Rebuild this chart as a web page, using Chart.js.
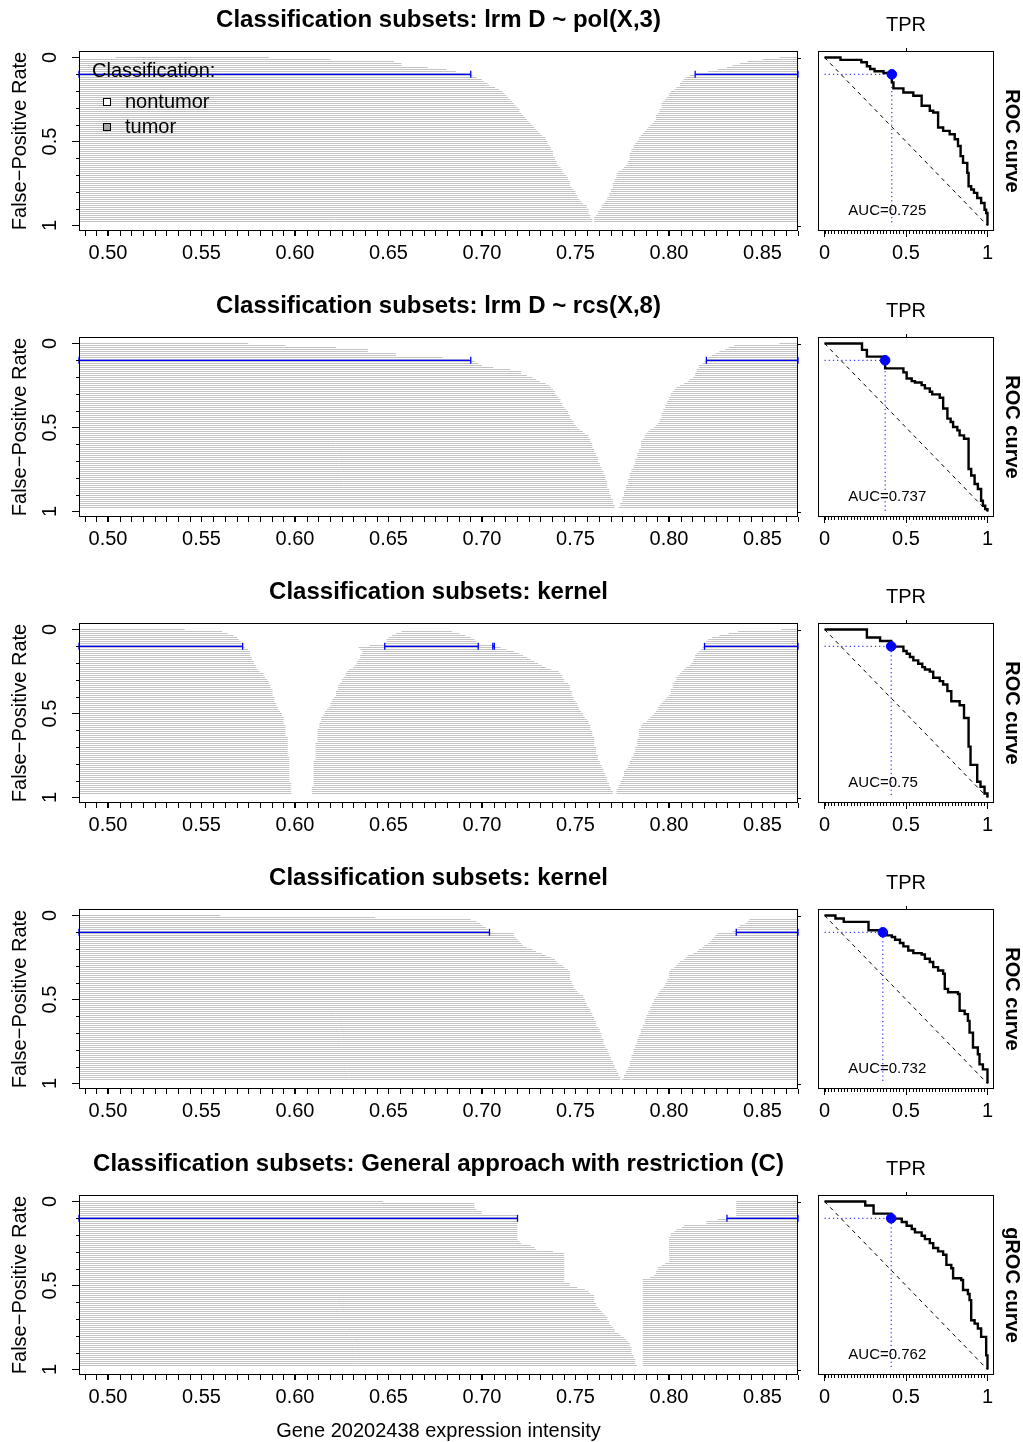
<!DOCTYPE html>
<html><head><meta charset="utf-8"><title>Classification subsets</title>
<script src="https://cdn.jsdelivr.net/npm/chart.js@4.4.0/dist/chart.umd.min.js"></script>
<style>html,body{margin:0;padding:0;background:#fff}body{position:relative;width:1023px;height:1442px;overflow:hidden}canvas{position:absolute}</style>
</head><body>
<script>
// ---------------- text ----------------
const titles = [
  'Classification subsets: lrm D ~ pol(X,3)',
  'Classification subsets: lrm D ~ rcs(X,8)',
  'Classification subsets: kernel',
  'Classification subsets: kernel',
  'Classification subsets: General approach with restriction (C)'
];
const rocSideLabels = ['ROC curve','ROC curve','ROC curve','ROC curve','gROC curve'];
const aucLabels = ['AUC=0.725','AUC=0.737','AUC=0.75','AUC=0.732','AUC=0.762'];
const yAxisTitle = 'False\u2212Positive Rate';
const xAxisTitle = 'Gene 20202438 expression intensity';
const rocTopLabel = 'TPR';
const legendTitle = 'Classification:';
const legendLabels = ['nontumor','tumor'];
const legendFills = ['#ffffff','#a6a6a6'];

// ---------------- ticks ----------------
const xTickValues = [0.50,0.55,0.60,0.65,0.70,0.75,0.80,0.85];
const xTickLabels = ['0.50','0.55','0.60','0.65','0.70','0.75','0.80','0.85'];
const yTickValues = [0,0.5,1];
const yTickLabels = ['0','0.5','1'];
const rocTickValues = [0,0.5,1];
const rocTickLabels = ['0','0.5','1'];

// ---------------- FPR levels (k / number of non-tumor samples) ----------------
const nNontumor = 84;
const nLevels = 83;

// ---------------- classification subsets: segment limits per FPR level ----------------
const p1Left = [
0.586,0.619,0.653,0.657,0.657,0.671,0.681,0.686,0.694,0.695,
0.697,0.700,0.701,0.703,0.704,0.707,0.709,0.711,0.712,0.713,
0.714,0.715,0.716,0.717,0.718,0.719,0.720,0.720,0.721,0.722,
0.723,0.724,0.725,0.726,0.727,0.728,0.729,0.730,0.731,0.732,
0.734,0.734,0.735,0.735,0.736,0.737,0.737,0.738,0.738,0.738,
0.739,0.739,0.740,0.740,0.741,0.742,0.743,0.743,0.744,0.745,
0.746,0.746,0.747,0.747,0.747,0.748,0.749,0.750,0.750,0.751,
0.751,0.752,0.753,0.754,0.756,0.756,0.757,0.757,0.757,0.758,
0.758,0.759,0.759];
const p1Right = [
0.859,0.850,0.842,0.838,0.834,0.831,0.826,0.821,0.814,0.811,
0.809,0.808,0.807,0.806,0.806,0.804,0.803,0.801,0.800,0.800,
0.799,0.798,0.797,0.796,0.796,0.796,0.795,0.795,0.794,0.793,
0.793,0.793,0.792,0.791,0.790,0.789,0.788,0.787,0.786,0.785,
0.784,0.784,0.783,0.782,0.781,0.781,0.780,0.780,0.779,0.779,
0.779,0.779,0.778,0.778,0.777,0.776,0.775,0.773,0.772,0.772,
0.772,0.771,0.771,0.770,0.770,0.770,0.769,0.769,0.768,0.768,
0.767,0.767,0.766,0.765,0.764,0.764,0.763,0.762,0.762,0.761,
0.760,0.760,0.760];
const p2Left = [
0.575,0.595,0.622,0.639,0.639,0.654,0.654,0.679,0.693,0.696,
0.698,0.700,0.706,0.715,0.721,0.721,0.724,0.727,0.729,0.731,
0.734,0.736,0.737,0.738,0.739,0.739,0.740,0.741,0.742,0.742,
0.743,0.743,0.744,0.745,0.746,0.746,0.747,0.747,0.748,0.749,
0.749,0.750,0.751,0.752,0.754,0.755,0.757,0.757,0.758,0.758,
0.759,0.759,0.759,0.760,0.760,0.761,0.761,0.762,0.762,0.762,
0.763,0.763,0.764,0.764,0.765,0.765,0.766,0.766,0.766,0.767,
0.767,0.767,0.767,0.768,0.768,0.768,0.769,0.769,0.770,0.770,
0.770,0.771,0.771];
const p2Right = [
0.859,0.835,0.832,0.830,0.827,0.825,0.823,0.821,0.820,0.819,
0.818,0.816,0.816,0.815,0.815,0.814,0.814,0.813,0.811,0.810,
0.808,0.806,0.804,0.803,0.802,0.801,0.801,0.800,0.800,0.799,
0.799,0.798,0.798,0.797,0.797,0.796,0.796,0.796,0.795,0.795,
0.794,0.793,0.792,0.790,0.789,0.788,0.787,0.787,0.786,0.785,
0.785,0.785,0.785,0.784,0.784,0.783,0.783,0.783,0.782,0.782,
0.782,0.781,0.781,0.780,0.780,0.779,0.779,0.779,0.778,0.778,
0.778,0.777,0.777,0.777,0.776,0.776,0.776,0.775,0.775,0.775,
0.774,0.774,0.773];
const p3Left = [
0.541,0.561,0.564,0.567,0.569,0.570,0.571,0.572,0.572,0.573,
0.575,0.576,0.576,0.576,0.577,0.577,0.578,0.578,0.579,0.579,
0.580,0.581,0.583,0.583,0.584,0.585,0.586,0.586,0.587,0.587,
0.588,0.588,0.588,0.588,0.589,0.589,0.589,0.590,0.590,0.591,
0.591,0.592,0.593,0.593,0.594,0.594,0.594,0.594,0.595,0.595,
0.595,0.595,0.595,0.595,0.596,0.596,0.596,0.596,0.596,0.596,
0.596,0.596,0.596,0.596,0.597,0.597,0.597,0.597,0.597,0.597,
0.597,0.597,0.597,0.597,0.597,0.597,0.597,0.598,0.598,0.598,
0.598,0.598,0.598];
const p3MidStart = [
null,0.657,0.654,0.652,0.650,0.649,0.649,0.648,0.640,0.634,
0.635,0.636,0.636,0.635,0.635,0.634,0.633,0.633,0.632,0.631,
0.629,0.628,0.627,0.627,0.626,0.625,0.625,0.624,0.623,0.623,
0.623,0.622,0.622,0.622,0.621,0.620,0.620,0.619,0.619,0.618,
0.617,0.616,0.616,0.615,0.614,0.614,0.614,0.613,0.613,0.613,
0.612,0.612,0.612,0.612,0.612,0.612,0.612,0.611,0.611,0.611,
0.611,0.611,0.611,0.611,0.611,0.611,0.610,0.610,0.610,0.610,
0.610,0.610,0.610,0.610,0.610,0.610,0.610,0.610,0.610,0.609,
0.609,0.609,0.609];
const p3MidEnd = [
null,0.684,0.688,0.691,0.694,0.696,0.697,0.698,0.707,0.710,
0.713,0.717,0.720,0.722,0.724,0.726,0.728,0.730,0.732,0.734,
0.737,0.741,0.742,0.743,0.743,0.744,0.744,0.746,0.747,0.747,
0.747,0.748,0.748,0.748,0.749,0.749,0.750,0.751,0.751,0.752,
0.752,0.753,0.754,0.754,0.755,0.756,0.757,0.757,0.758,0.758,
0.758,0.759,0.759,0.759,0.760,0.760,0.760,0.760,0.760,0.761,
0.761,0.761,0.761,0.762,0.762,0.762,0.763,0.763,0.764,0.764,
0.765,0.765,0.766,0.766,0.767,0.767,0.767,0.768,0.768,0.769,
0.769,0.770,0.770];
const p3Right = [
0.860,0.837,0.832,0.827,0.823,0.821,0.820,0.819,0.819,0.818,
0.817,0.816,0.815,0.814,0.814,0.813,0.813,0.812,0.811,0.809,
0.808,0.807,0.806,0.805,0.804,0.804,0.803,0.802,0.802,0.802,
0.801,0.801,0.801,0.800,0.799,0.798,0.797,0.796,0.795,0.794,
0.794,0.793,0.792,0.791,0.790,0.789,0.788,0.786,0.785,0.785,
0.784,0.784,0.784,0.784,0.784,0.783,0.783,0.783,0.783,0.782,
0.782,0.782,0.781,0.781,0.780,0.780,0.779,0.779,0.778,0.778,
0.777,0.776,0.776,0.776,0.775,0.775,0.774,0.774,0.773,0.773,
0.772,0.772,0.772];
const p4Left = [
0.560,0.643,0.694,0.697,0.699,0.700,0.702,0.703,0.704,0.717,
0.717,0.718,0.719,0.720,0.721,0.722,0.724,0.727,0.729,0.732,
0.734,0.737,0.739,0.740,0.741,0.743,0.744,0.746,0.747,0.747,
0.747,0.747,0.747,0.748,0.748,0.749,0.749,0.750,0.751,0.752,
0.754,0.754,0.755,0.755,0.756,0.756,0.757,0.758,0.758,0.759,
0.759,0.760,0.760,0.761,0.761,0.761,0.762,0.763,0.763,0.764,
0.764,0.764,0.765,0.765,0.765,0.766,0.766,0.767,0.767,0.768,
0.768,0.769,0.769,0.770,0.770,0.771,0.771,0.772,0.772,0.773,
0.773,0.774,0.774];
const p4Right = [
null,null,0.843,0.842,0.841,0.838,0.837,0.836,0.834,0.826,
0.825,0.824,0.823,0.822,0.821,0.819,0.818,0.816,0.815,0.813,
0.810,0.809,0.808,0.806,0.805,0.804,0.803,0.801,0.800,0.800,
0.800,0.800,0.799,0.799,0.798,0.798,0.797,0.796,0.795,0.794,
0.794,0.793,0.792,0.792,0.791,0.791,0.790,0.790,0.789,0.789,
0.788,0.788,0.787,0.787,0.787,0.786,0.786,0.785,0.785,0.785,
0.784,0.784,0.783,0.783,0.783,0.782,0.782,0.781,0.781,0.781,
0.780,0.780,0.780,0.779,0.779,0.779,0.778,0.778,0.777,0.777,
0.776,0.776,0.775];
const p5Left = [
0.647,0.696,0.696,0.696,0.697,0.700,0.700,0.719,0.719,0.719,
0.719,0.719,0.719,0.719,0.719,0.719,0.719,0.719,0.719,0.719,
0.720,0.721,0.726,0.728,0.729,0.738,0.744,0.744,0.744,0.744,
0.744,0.744,0.744,0.744,0.744,0.744,0.744,0.744,0.744,0.744,
0.744,0.747,0.747,0.751,0.755,0.757,0.758,0.760,0.760,0.760,
0.760,0.761,0.761,0.762,0.763,0.764,0.765,0.766,0.767,0.767,
0.768,0.768,0.769,0.770,0.771,0.771,0.773,0.774,0.776,0.777,
0.778,0.779,0.779,0.780,0.780,0.780,0.780,0.781,0.781,0.782,
0.782,0.782,0.783];
const p5Right = [
0.836,0.836,0.836,0.836,0.836,0.836,0.836,0.836,0.831,0.826,
0.820,0.820,0.808,0.807,0.804,0.803,0.801,0.801,0.800,0.800,
0.800,0.800,0.800,0.800,0.800,0.800,0.800,0.800,0.800,0.800,
0.800,0.798,0.796,0.794,0.794,0.793,0.793,0.792,0.790,0.786,
0.786,0.786,0.786,0.786,0.786,0.786,0.786,0.786,0.786,0.786,
0.786,0.786,0.786,0.786,0.786,0.786,0.786,0.786,0.786,0.786,
0.786,0.786,0.786,0.786,0.786,0.786,0.786,0.786,0.786,0.786,
0.786,0.786,0.786,0.786,0.786,0.786,0.786,0.786,0.786,0.786,
0.786,0.786,0.786];
const firstLineStart = [0.504, null, null, null, null];

// ---------------- optimal subset at FPR = 0.1 (blue) ----------------
const cutFPR = [0.1, 0.1, 0.1, 0.1, 0.1];
const blueLeftEnd = [0.694, 0.694, 0.572, 0.704, 0.719];
const blueRightStart = [0.814, 0.820, 0.819, 0.836, 0.831];
const blueMidStart = [[], [], [0.648, 0.7058], [], []];
const blueMidEnd = [[], [], [0.698, 0.7066], [], []];

// ---------------- ROC curves (TPR on x, FPR on y) ----------------
const roc1TPR = [0,0.098,0.226,0.260,0.280,0.307,0.362,0.392,0.413,0.423,0.484,0.545,0.596,0.646,0.667,0.697,0.728,0.768,0.799,0.819,0.835,0.850,0.876,0.884,0.900,0.917,0.937,0.961,0.982,0.992,1];
const roc1FPR = [0,0.014,0.028,0.052,0.068,0.082,0.092,0.102,0.148,0.184,0.208,0.228,0.287,0.317,0.327,0.417,0.437,0.457,0.487,0.527,0.587,0.627,0.687,0.766,0.786,0.806,0.836,0.866,0.906,0.926,1];
const roc2TPR = [0,0.230,0.260,0.372,0.484,0.504,0.535,0.555,0.596,0.616,0.646,0.661,0.707,0.728,0.754,0.774,0.789,0.815,0.829,0.856,0.884,0.900,0.921,0.941,0.961,0.972,0.986,1];
const roc2FPR = [0,0.038,0.078,0.148,0.172,0.208,0.224,0.232,0.248,0.267,0.287,0.303,0.323,0.387,0.447,0.467,0.497,0.517,0.547,0.567,0.747,0.786,0.836,0.866,0.936,0.966,0.986,1];
const roc3TPR = [0,0.260,0.341,0.409,0.484,0.504,0.524,0.545,0.575,0.600,0.616,0.646,0.667,0.707,0.728,0.754,0.778,0.829,0.856,0.884,0.896,0.937,0.957,0.982,1];
const roc3FPR = [0,0.048,0.068,0.102,0.128,0.144,0.164,0.184,0.204,0.224,0.238,0.251,0.287,0.307,0.327,0.367,0.427,0.451,0.527,0.697,0.806,0.906,0.936,0.976,1];
const roc4TPR = [0,0.067,0.118,0.270,0.358,0.382,0.413,0.433,0.463,0.484,0.514,0.545,0.596,0.616,0.646,0.667,0.697,0.728,0.738,0.758,0.819,0.829,0.860,0.880,0.890,0.911,0.941,0.951,0.972,1,1];
const roc4FPR = [0,0.018,0.038,0.088,0.102,0.118,0.128,0.144,0.164,0.184,0.208,0.224,0.232,0.257,0.277,0.307,0.327,0.347,0.437,0.457,0.467,0.567,0.587,0.627,0.697,0.786,0.826,0.886,0.916,0.946,1];
const roc5TPR = [0,0.250,0.301,0.409,0.474,0.504,0.535,0.555,0.596,0.616,0.646,0.667,0.697,0.728,0.748,0.778,0.789,0.839,0.850,0.880,0.890,0.900,0.921,0.941,0.961,0.992,1];
const roc5FPR = [0,0.024,0.072,0.102,0.122,0.144,0.164,0.184,0.204,0.224,0.248,0.277,0.297,0.317,0.377,0.397,0.457,0.467,0.527,0.551,0.587,0.707,0.727,0.756,0.806,0.916,1];
const cutTPR = [0.413, 0.372, 0.409, 0.358, 0.409];

// ---------------- setup ----------------
const FONT = "'Liberation Sans', Arial, Helvetica, sans-serif";
Chart.defaults.font.family = FONT;
Chart.defaults.color = '#000';
const X_MIN = 0.4845, X_MAX = 0.869;
const F_MIN = -0.0387, F_MAX = 1.0327;
const ROW_H = 286;

const grayPanels = [
  {left: p1Left, right: p1Right},
  {left: p2Left, right: p2Right},
  {left: p3Left, midS: p3MidStart, midE: p3MidEnd, right: p3Right},
  {left: p4Left, right: p4Right},
  {left: p5Left, right: p5Right}
];
const rocCurves = [[roc1TPR, roc1FPR],[roc2TPR, roc2FPR],[roc3TPR, roc3FPR],[roc4TPR, roc4FPR],[roc5TPR, roc5FPR]];

function mkCanvas(left, top, w, h) {
  const c = document.createElement('canvas');
  c.width = w; c.height = h;
  c.style.left = left + 'px'; c.style.top = top + 'px';
  c.style.width = w + 'px'; c.style.height = h + 'px';
  document.body.appendChild(c);
  return c;
}

function grayData(i) {
  const p = grayPanels[i];
  const pts = [];
  const seg = (a, b, y) => { pts.push({x: a, y: y}, {x: b, y: y}, {x: b, y: null}); };
  for (let k = 0; k < nLevels; k++) {
    const f = k / nNontumor;
    if (p.left[k] != null) seg(k === 0 && firstLineStart[i] != null ? firstLineStart[i] : X_MIN, p.left[k], f);
    if (p.midS && p.midS[k] != null) seg(p.midS[k], p.midE[k], f);
    if (p.right[k] != null) seg(p.right[k], X_MAX, f);
  }
  return pts;
}

function blueData(i) {
  const f = cutFPR[i];
  const pts = [];
  const seg = (a, b) => { pts.push({x: a, y: f}, {x: b, y: f}, {x: b, y: null}); };
  seg(X_MIN, blueLeftEnd[i]);
  for (let j = 0; j < blueMidStart[i].length; j++) seg(blueMidStart[i][j], blueMidEnd[i][j]);
  seg(blueRightStart[i], X_MAX);
  return pts;
}

function mainPlugin(i) {
  return {
    id: 'mainDeco' + i,
    afterDraw(chart) {
      const {ctx, chartArea: a, scales: {x, y}} = chart;
      ctx.save();
      ctx.strokeStyle = '#000'; ctx.lineWidth = 1;
      ctx.strokeRect(a.left + 0.5, a.top + 0.5, a.right - a.left - 1, a.bottom - a.top - 1);
      const step = 0.00625;
      ctx.beginPath();
      for (let m = Math.ceil(X_MIN / step); m <= Math.floor(X_MAX / step); m++) {
        const px = Math.round(x.getPixelForValue(m * step)) + 0.5;
        ctx.moveTo(px, a.bottom); ctx.lineTo(px, a.bottom + 5);
      }
      for (let m = 1; m < 10; m++) {
        if (m === 5) continue;
        const py = Math.round(y.getPixelForValue(m / 10)) + 0.5;
        ctx.moveTo(a.left, py); ctx.lineTo(a.left - 3, py);
      }
      [0, 1].forEach(v => {
        const py = Math.round(y.getPixelForValue(v)) + 0.5;
        ctx.moveTo(a.right, py); ctx.lineTo(a.right + 3, py);
      });
      ctx.stroke();
      ctx.fillStyle = '#000';
      ctx.font = 'bold 24px ' + FONT;
      ctx.textAlign = 'center'; ctx.textBaseline = 'middle';
      ctx.fillText(titles[i], (a.left + a.right) / 2, a.top - 31);
      if (i === 0) {
        ctx.font = '20px ' + FONT;
        ctx.textAlign = 'left';
        ctx.fillText(legendTitle, 92, 71);
        legendLabels.forEach((lab, j) => {
          const cy = 102 + j * 25;
          ctx.fillStyle = legendFills[j];
          ctx.fillRect(103.5, cy - 3.5, 7, 7);
          ctx.strokeRect(103.5, cy - 3.5, 7, 7);
          ctx.fillStyle = '#000';
          ctx.fillText(lab, 125, cy);
        });
      }
      ctx.restore();
    }
  };
}

function rocPlugin(i) {
  return {
    id: 'rocDeco' + i,
    afterDraw(chart) {
      const {ctx, chartArea: a, scales: {x, y}} = chart;
      ctx.save();
      ctx.strokeStyle = '#000'; ctx.lineWidth = 1;
      ctx.strokeRect(a.left + 0.5, a.top + 0.5, a.right - a.left - 1, a.bottom - a.top - 1);
      ctx.beginPath();
      for (let m = 0; m <= 50; m++) {
        const px = Math.round(x.getPixelForValue(m / 50)) + 0.5;
        ctx.moveTo(px, a.bottom); ctx.lineTo(px, a.bottom + 3);
      }
      const tp = Math.round(x.getPixelForValue(0.5)) + 0.5;
      ctx.moveTo(tp, a.top); ctx.lineTo(tp, a.top - 3);
      ctx.stroke();
      ctx.fillStyle = '#000';
      ctx.textBaseline = 'middle';
      ctx.font = '20px ' + FONT;
      ctx.textAlign = 'center';
      ctx.fillText(rocTopLabel, x.getPixelForValue(0.5), a.top - 26);
      ctx.font = '15px ' + FONT;
      ctx.textAlign = 'left';
      ctx.fillText(aucLabels[i], x.getPixelForValue(0.146), y.getPixelForValue(0.914));
      ctx.translate(a.right + 18, (a.top + a.bottom) / 2);
      ctx.rotate(Math.PI / 2);
      ctx.font = 'bold 20px ' + FONT;
      ctx.textAlign = 'center';
      ctx.fillText(rocSideLabels[i], 0, 0);
      ctx.restore();
    }
  };
}

for (let i = 0; i < 5; i++) {
  const top = ROW_H * i;
  const isLast = i === 4;
  const W = 810, H = isLast ? 299 : 286;
  const cv = mkCanvas(0, top, W, H);
  new Chart(cv, {
    type: 'line',
    data: {datasets: [
      {data: blueData(i), borderColor: '#0000ff', borderWidth: 1.3, pointStyle: 'line', pointRotation: 90,
       pointRadius: 3.5, pointBorderColor: '#0000ff', pointBorderWidth: 1.3, pointBackgroundColor: '#0000ff',
       spanGaps: false, clip: false, order: 1, tension: 0},
      {data: grayData(i), borderColor: '#c4c4c4', borderWidth: 1, pointRadius: 0, spanGaps: false,
       order: 2, tension: 0, borderCapStyle: 'butt'}
    ]},
    options: {
      responsive: false, animation: false, devicePixelRatio: 1, events: [],
      layout: {padding: {left: 0, right: W - 798, top: 51, bottom: 0}},
      plugins: {legend: {display: false}, tooltip: {enabled: false}},
      scales: {
        x: {
          type: 'linear', min: X_MIN, max: X_MAX,
          afterFit(s) { s.height = isLast ? 68 : 55; },
          afterBuildTicks(s) { s.ticks = xTickValues.map(v => ({value: v})); },
          ticks: {callback: (v, idx) => xTickLabels[idx], font: {size: 20}, color: '#000', padding: 5,
                  autoSkip: false, minRotation: 0, maxRotation: 0},
          grid: {display: true, drawOnChartArea: false, drawTicks: true, tickLength: 5, tickColor: '#000', tickWidth: 1},
          border: {display: false},
          title: {display: isLast, text: xAxisTitle, font: {size: 20}, color: '#000', padding: 0}
        },
        y: {
          type: 'linear', min: F_MIN, max: F_MAX, reverse: true,
          afterFit(s) { s.width = 79; },
          afterBuildTicks(s) { s.ticks = yTickValues.map(v => ({value: v})); },
          ticks: {callback: (v, idx) => yTickLabels[idx], font: {size: 20}, color: '#000', padding: 8,
                  autoSkip: false, minRotation: 90, maxRotation: 90, crossAlign: 'center'},
          grid: {display: true, drawOnChartArea: false, drawTicks: true, tickLength: 7, tickColor: '#000', tickWidth: 1},
          border: {display: false},
          title: {display: true, text: yAxisTitle, font: {size: 20}, color: '#000', padding: {top: 8, bottom: 0}}
        }
      }
    },
    plugins: [mainPlugin(i)]
  });

  const rcv = mkCanvas(810, top, 213, 286);
  const [rt, rf] = rocCurves[i];
  new Chart(rcv, {
    type: 'line',
    data: {datasets: [
      {data: [{x: cutTPR[i], y: cutFPR[i]}], showLine: false, pointRadius: 4.8, pointStyle: 'circle',
       pointBackgroundColor: '#0000ff', pointBorderColor: '#0000ff', pointBorderWidth: 1, order: 0, clip: false},
      {data: rt.map((t, j) => ({x: t, y: rf[j]})), stepped: 'before', borderColor: '#000', borderWidth: 2.4,
       pointRadius: 0, order: 1, borderJoinStyle: 'miter', borderCapStyle: 'butt', clip: false},
      {data: [{x: 0, y: cutFPR[i]}, {x: cutTPR[i], y: cutFPR[i]}, {x: cutTPR[i], y: 1}], borderColor: '#0000ff',
       borderWidth: 1, borderDash: [1.2, 3], pointRadius: 0, order: 2, tension: 0},
      {data: [{x: 0, y: 0}, {x: 1, y: 1}], borderColor: '#000', borderWidth: 1, borderDash: [4, 4],
       pointRadius: 0, order: 3, tension: 0}
    ]},
    options: {
      responsive: false, animation: false, devicePixelRatio: 1, events: [],
      layout: {padding: {left: 8, right: 213 - 184, top: 51, bottom: 0}},
      plugins: {legend: {display: false}, tooltip: {enabled: false}},
      scales: {
        x: {
          type: 'linear', min: -0.04, max: 1.04,
          afterFit(s) { s.height = 55; },
          afterBuildTicks(s) { s.ticks = rocTickValues.map(v => ({value: v})); },
          ticks: {callback: (v, idx) => rocTickLabels[idx], font: {size: 20}, color: '#000', padding: 4,
                  autoSkip: false, minRotation: 0, maxRotation: 0},
          grid: {display: true, drawOnChartArea: false, drawTicks: true, tickLength: 6, tickColor: '#000', tickWidth: 1},
          border: {display: false}
        },
        y: {type: 'linear', min: F_MIN, max: F_MAX, reverse: true, display: false}
      }
    },
    plugins: [rocPlugin(i)]
  });
}
</script>
</body></html>
